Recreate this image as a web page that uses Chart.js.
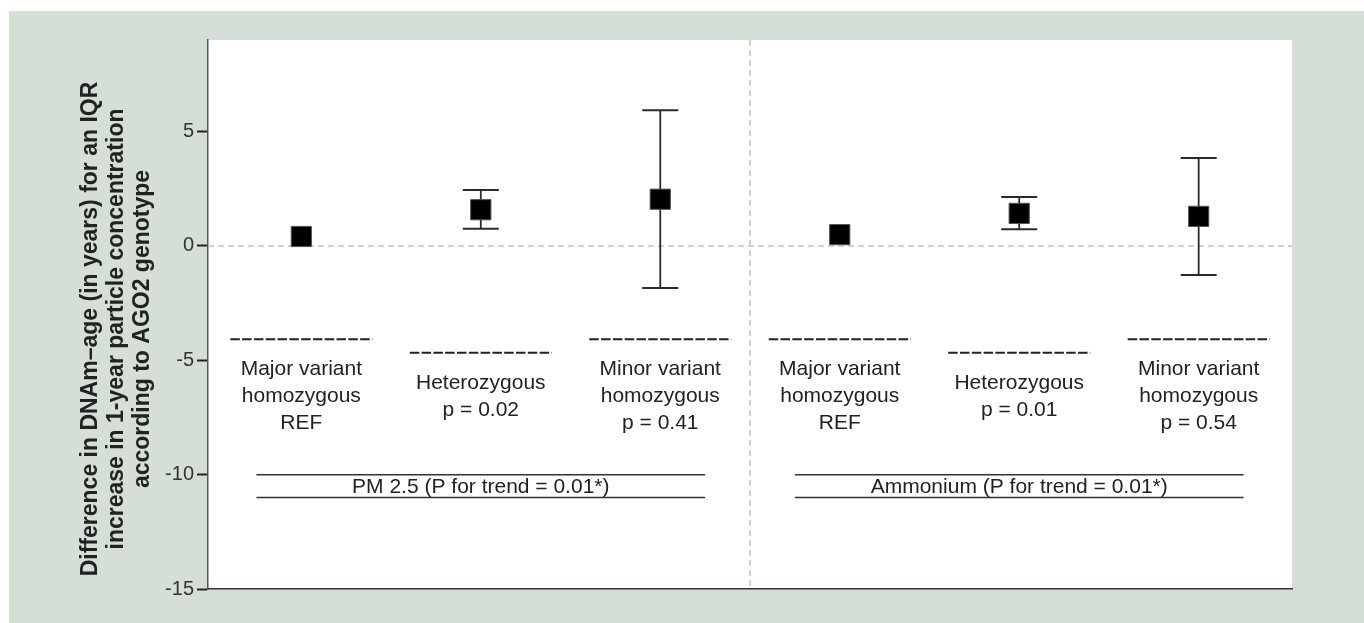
<!DOCTYPE html>
<html>
<head>
<meta charset="utf-8">
<script src="https://cdn.jsdelivr.net/npm/chart.js@4"></script>
<style>
  html, body { margin: 0; padding: 0; background: #fff; }
  #wrap { width: 1364px; height: 623px; }
</style>
</head>
<body>
<div id="wrap"><canvas id="chart" width="1364" height="623"></canvas></div>
<script>
// genotype positions along x, and the estimated effect with its 95% CI
const positions = [1, 2, 3, 4, 5, 6];
const estimates = [0.41, 1.58, 2.04, 0.49, 1.42, 1.29];
const lowerCI = [null, 0.75, -1.84, null, 0.73, -1.27];
const upperCI = [null, 2.44, 5.93, null, 2.14, 3.84];

const categoryLabels = [
  ['Major variant', 'homozygous', 'REF'],
  ['Heterozygous', 'p = 0.02'],
  ['Minor variant', 'homozygous', 'p = 0.41'],
  ['Major variant', 'homozygous', 'REF'],
  ['Heterozygous', 'p = 0.01'],
  ['Minor variant', 'homozygous', 'p = 0.54']
];
const labelCenterY = -5.9;

const groupNames = ['PM 2.5 (P for trend = 0.01*)', 'Ammonium (P for trend = 0.01*)'];
const groupStart = [0.75, 3.75];
const groupEnd = [3.25, 6.25];
const bracketTop = -10;
const bracketBottom = -11;

const yTicks = [-15, -10, -5, 0, 5];
const zeroLine = 0;
const groupDivider = 3.5;

const yTitle = [
  'Difference in DNAm\u2013age (in years) for an IQR',
  'increase in 1-year particle concentration',
  'according to AGO2 genotype'
];

const FONT = '"Liberation Sans", Arial, Helvetica, sans-serif';
const INK = '#222';

const decor = {
  id: 'decor',
  beforeDraw(chart) {
    const ctx = chart.ctx;
    const a = chart.chartArea;
    ctx.save();
    ctx.fillStyle = '#d5dfd6';
    ctx.fillRect(9, 11, chart.width - 9, chart.height - 11);
    ctx.fillStyle = '#fff';
    ctx.fillRect(a.left, a.top, a.right - a.left, a.bottom - a.top);
    ctx.restore();
  },
  beforeDatasetsDraw(chart) {
    const ctx = chart.ctx;
    const a = chart.chartArea;
    const x = chart.scales.x, y = chart.scales.y;
    ctx.save();
    ctx.strokeStyle = '#c4c4c4';
    ctx.lineWidth = 1.5;
    ctx.setLineDash([6, 4]);
    const y0 = y.getPixelForValue(zeroLine);
    ctx.beginPath();
    ctx.moveTo(a.left, y0);
    ctx.lineTo(a.right, y0);
    const xd = x.getPixelForValue(groupDivider);
    ctx.moveTo(xd, a.top);
    ctx.lineTo(xd, a.bottom);
    ctx.stroke();
    ctx.setLineDash([]);

    // error bars
    ctx.strokeStyle = '#2a2a2a';
    positions.forEach((p, i) => {
      if (lowerCI[i] === null) return;
      const px = x.getPixelForValue(p);
      const lo = y.getPixelForValue(lowerCI[i]);
      const hi = y.getPixelForValue(upperCI[i]);
      ctx.lineWidth = 1.8;
      ctx.beginPath();
      ctx.moveTo(px, lo);
      ctx.lineTo(px, hi);
      ctx.stroke();
      ctx.lineWidth = 2;
      ctx.beginPath();
      ctx.moveTo(px - 18, lo);
      ctx.lineTo(px + 18, lo);
      ctx.moveTo(px - 18, hi);
      ctx.lineTo(px + 18, hi);
      ctx.stroke();
    });
    ctx.restore();
  },
  afterDatasetsDraw(chart) {
    const ctx = chart.ctx;
    const x = chart.scales.x, y = chart.scales.y;
    ctx.save();
    ctx.fillStyle = INK;
    ctx.textAlign = 'center';
    ctx.textBaseline = 'middle';
    ctx.font = '21px ' + FONT;
    const lh = 27;
    const cy = y.getPixelForValue(labelCenterY);
    positions.forEach((p, i) => {
      const px = x.getPixelForValue(p);
      const lines = categoryLabels[i];
      const n = lines.length + 1;
      const top = cy - (n - 1) * lh / 2 - 1;
      // dashed rule above each label
      ctx.strokeStyle = INK;
      ctx.lineWidth = 2;
      ctx.setLineDash([9.5, 2.3]);
      ctx.beginPath();
      ctx.moveTo(px - 71, top);
      ctx.lineTo(px + 71, top);
      ctx.stroke();
      ctx.setLineDash([]);
      lines.forEach((t, j) => ctx.fillText(t, px, top + 30 + j * lh));
    });

    // group brackets
    groupNames.forEach((g, i) => {
      const x1 = x.getPixelForValue(groupStart[i]);
      const x2 = x.getPixelForValue(groupEnd[i]);
      const t = y.getPixelForValue(bracketTop);
      const b = y.getPixelForValue(bracketBottom);
      ctx.strokeStyle = '#333';
      ctx.lineWidth = 1.5;
      ctx.beginPath();
      ctx.moveTo(x1, t); ctx.lineTo(x2, t);
      ctx.moveTo(x1, b); ctx.lineTo(x2, b);
      ctx.stroke();
      ctx.fillText(g, (x1 + x2) / 2, (t + b) / 2 + 1);
    });

    // y axis title
    ctx.font = 'bold 23px ' + FONT;
    ctx.translate(0, 329);
    ctx.rotate(-Math.PI / 2);
    yTitle.forEach((t, j) => ctx.fillText(t, 0, 91 + j * 26));
    ctx.restore();
  }
};

new Chart(document.getElementById('chart'), {
  type: 'scatter',
  data: {
    datasets: [{
      data: positions.map((p, i) => ({ x: p, y: estimates[i] })),
      pointStyle: 'rect',
      pointRadius: 14.3,
      pointHoverRadius: 14.3,
      backgroundColor: '#000',
      borderColor: '#555',
      borderWidth: 1
    }]
  },
  options: {
    responsive: false,
    animation: false,
    layout: { padding: { top: 40, right: 72, bottom: 34, left: 0 } },
    plugins: { legend: { display: false }, tooltip: { enabled: false } },
    scales: {
      x: {
        type: 'linear',
        min: 0.48,
        max: 6.52,
        grid: { display: false },
        ticks: { display: false },
        border: { display: true, color: '#333', width: 1.5 },
        afterFit(s) { s.height = 0; }
      },
      y: {
        min: -15,
        max: 9,
        afterBuildTicks(s) { s.ticks = yTicks.map(v => ({ value: v })); },
        ticks: {
          font: { family: FONT, size: 20 },
          color: '#333',
          padding: 3
        },
        grid: { drawOnChartArea: false, drawTicks: true, tickLength: 11, tickColor: '#222', tickWidth: 2 },
        border: { display: true, color: '#555', width: 1.5 },
        afterFit(s) { s.width = 208; }
      }
    }
  },
  plugins: [decor]
});
</script>
</body>
</html>
